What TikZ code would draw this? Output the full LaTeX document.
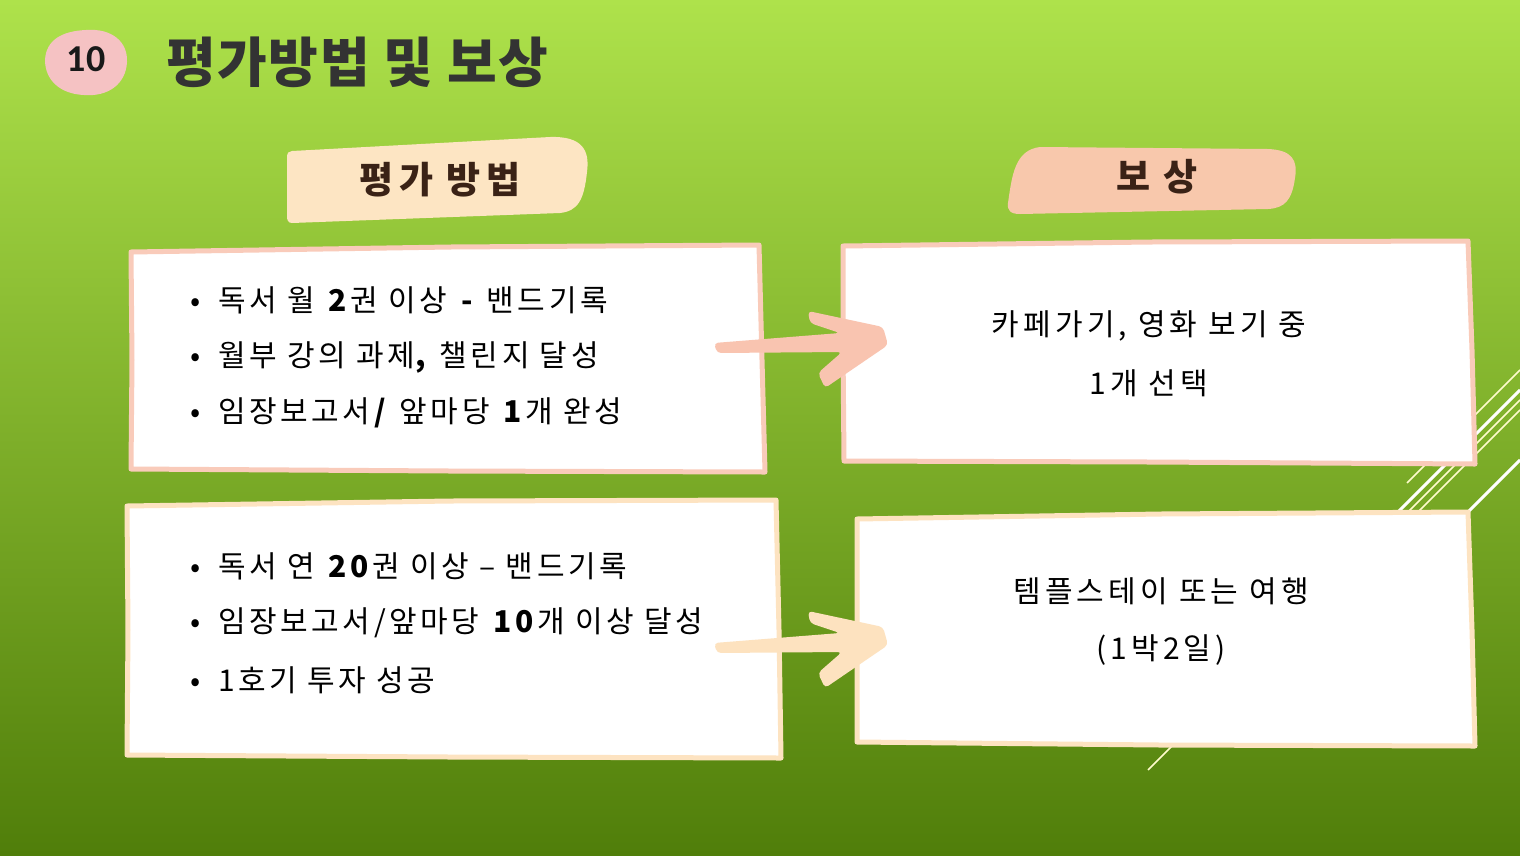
\documentclass[tikz,border=0pt]{standalone}
\usepackage{fontspec}
\setmainfont{Noto Sans CJK KR}
\newfontfamily\itemfont{Noto Sans CJK KR}[LetterSpace=12]
\newfontfamily\rewardfont{Noto Sans CJK KR}[LetterSpace=14]
\newfontfamily\pillfont{Noto Sans CJK KR}[LetterSpace=14]
\newfontfamily\titlefont{Noto Sans CJK KR}[LetterSpace=3]
\newfontfamily\badgefont{Carlito}
\definecolor{bgtop}{HTML}{AEE24B}
\definecolor{bgbot}{HTML}{507E0A}
\definecolor{pinkB}{HTML}{F9CBBA}
\definecolor{creamB}{HTML}{FDE3C1}
\definecolor{pinkArrow}{HTML}{F9C4B0}
\definecolor{creamArrow}{HTML}{FDE2BF}
\definecolor{pillCream}{HTML}{FDE5C3}
\definecolor{pillPeach}{HTML}{F8C8AC}
\definecolor{badgePink}{HTML}{F5C2C3}
\definecolor{titleGray}{HTML}{333333}
\definecolor{pillText}{HTML}{3A2216}
\tikzset{
  boxpink/.style={fill=white, draw=pinkB, line width=5pt, line join=round},
  boxcream/.style={fill=white, draw=creamB, line width=5pt, line join=round},
  item/.style={anchor=west, inner sep=0pt, font=\itemfont\fontsize{30}{34}\selectfont, text=black},
  reward/.style={anchor=center, inner sep=0pt, font=\rewardfont\fontsize{30}{36}\selectfont, text=black},
  pilltext/.style={inner sep=0pt, font=\pillfont\fontsize{37}{44}\selectfont\bfseries, text=pillText},
  decothick/.style={draw=white, line width=3pt},
  decothin/.style={draw=white!80!yellow, line width=1.5pt},
  arrowshape/.style={rounded corners=4pt}
}
\begin{document}
\begin{tikzpicture}[x=1pt,y=-1pt]
\useasboundingbox (0,0) rectangle (1520,855);
\shade[top color=bgtop, bottom color=bgbot] (0,0) rectangle (1520,855);

% decorative lines
\draw[decothin]  (1407,483) -- (1520,370);
\draw[decothick] (1398,512) -- (1520,390);
\draw[decothin]  (1408,512) -- (1520,400);
\draw[decothin]  (1418,512) -- (1520,410);
\draw[decothick] (1468,512) -- (1520,460);
\draw[decothin]  (1148,770) -- (1178,740);

% badge and title
\fill[badgePink] (86,30) .. controls (112,28) and (128,42) .. (127,62)
  .. controls (126,84) and (108,97) .. (84,95)
  .. controls (60,94) and (45,80) .. (45,60)
  .. controls (46,40) and (62,31) .. (86,30) -- cycle;
\node[inner sep=0pt, font=\badgefont\fontsize{38}{44}\selectfont\bfseries, text=black!90] (badge) at (86,59) {10};
\node[anchor=west, inner sep=0pt, font=\titlefont\fontsize{54}{64}\selectfont\bfseries, text=titleGray] (title) at (166,62) {평가방법 및 보상};

% header pills
\fill[pillCream] (292,151) -- (550,137) .. controls (582,136) and (590,150) .. (587,172)
  .. controls (584,200) and (578,211) .. (560,213) -- (292,223)
  .. controls (288,223) and (287,220) .. (287,216) -- (287,157)
  .. controls (287,153) and (289,151) .. (292,151) -- cycle;
\node[pilltext] (hdrA) at (440,180) {평가 방법};

\fill[pillPeach] (1040,147) -- (1268,149) .. controls (1292,150) and (1298,160) .. (1295,178)
  .. controls (1292,200) and (1285,208) .. (1268,209) -- (1020,214)
  .. controls (1010,214) and (1007,210) .. (1008,203)
  .. controls (1012,175) and (1015,150) .. (1040,147) -- cycle;
\node[pilltext] (hdrB) at (1157,177) {보\hspace{12pt}상};

% boxes
\draw[boxpink]  (131,252) -- (450,247) -- (759,245) -- (762,360) -- (765,472) -- (450,471) -- (131,469) -- (132,360) -- cycle;
\draw[boxcream] (127,506) -- (450,501) -- (776,500) -- (779,630) -- (781,758) -- (450,757) -- (127,755) -- (128,630) -- cycle;
\draw[boxpink]  (843,246) -- (1150,242) -- (1468,241) -- (1472,350) -- (1475,464) -- (1150,462) -- (844,461) -- (843,350) -- cycle;
\draw[boxcream] (857,519) -- (1160,514) -- (1468,512) -- (1472,630) -- (1475,746) -- (1160,745) -- (857,742) -- (857,630) -- cycle;

% left items
\node[item] (a1) at (190,300) {\makebox[28pt][l]{•}독서 월 \textbf{2}권 이상 \textbf{-} 밴드기록};
\node[item] (a2) at (190,357) {\makebox[28pt][l]{•}월부 강의 과제\textbf{,} 챌린지 달성};
\node[item] (a3) at (190,413) {\makebox[28pt][l]{•}임장보고서\textbf{/} 앞마당 \textbf{1}개 완성};
\node[item] (b1) at (190,566) {\makebox[28pt][l]{•}독서 연 \textbf{20}권 이상 – 밴드기록};
\node[item] (b2) at (190,623) {\makebox[28pt][l]{•}임장보고서/앞마당 \textbf{10}개 이상 달성};
\node[item] (b3) at (190,680) {\makebox[28pt][l]{•}1호기 투자 성공};

% right texts
\node[reward] (c1) at (1149,326) {카페가기, 영화 보기 중};
\node[reward] (c2) at (1149,383) {1개 선택};
\node[reward] (d1) at (1161,591) {템플스테이 또는 여행};
\node[reward] (d2) at (1161,650) {(1박2일)};

% arrows
\coordinate (arrA) at (700,290);
\coordinate (arrB) at (700,590);
\begin{scope}[shift={(arrA)}]
\fill[pinkArrow, arrowshape] (14,53) -- (140,43) -- (110,33) -- (108,21) -- (183,37) -- (188,55) -- (125,98) -- (118,83) -- (142,62) -- (17,63) -- cycle;
\end{scope}
\begin{scope}[shift={(arrB)}]
\fill[creamArrow, arrowshape] (14,53) -- (140,43) -- (110,33) -- (108,21) -- (183,37) -- (188,55) -- (125,98) -- (118,83) -- (142,62) -- (17,63) -- cycle;
\end{scope}
\end{tikzpicture}
\end{document}
